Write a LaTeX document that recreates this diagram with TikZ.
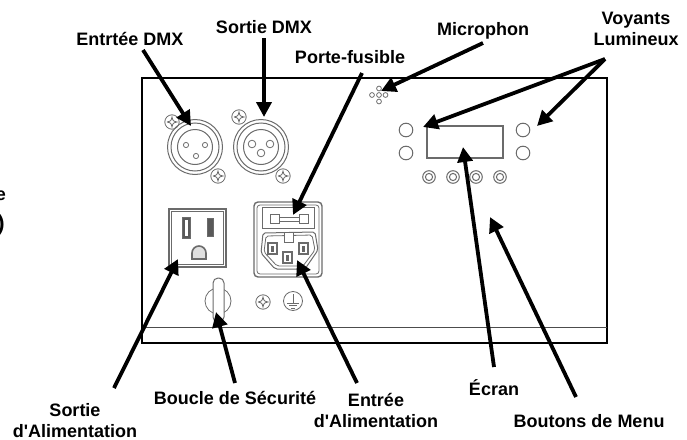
\documentclass[tikz,border=0pt]{standalone}
\usepackage{fontspec}
\setmainfont{Liberation Sans}[Ligatures=TeXOff]
\usetikzlibrary{arrows.meta}
\definecolor{partgray}{gray}{0.42}
\tikzset{
  lbl/.style={font=\fontsize{18}{21}\selectfont\bfseries,inner sep=0pt,text=black,align=center},
  callout/.style={line width=3.8pt,-{Triangle[length=15pt,width=15pt]},black},
  part/.style={draw=partgray,line width=1pt},
  thinpart/.style={draw=partgray,line width=0.8pt},
  screwpic/.pic={
    \draw[thinpart] (0,0) circle (7.2);
    \draw[thinpart] (-5,0) .. controls (-1,-1) .. (0,-5) .. controls (1,-1) .. (5,0) .. controls (1,1) .. (0,5) .. controls (-1,1) .. (-5,0);
  },
  xlrpic/.pic={
    \draw[part] (0,0) circle (27.5);
    \draw[part] (0,0) circle (24);
    \draw[part] (0,0) circle (17.5);
  },
  knobpic/.pic={
    \draw[part] (0,0) circle (6.3);
    \draw[part] (0,0) circle (3.6);
  },
  ledpic/.pic={\draw[part] (0,0) circle (6.8);},
}
\begin{document}
\begin{tikzpicture}[x=1pt,y=-1pt]
\useasboundingbox (0,0) rectangle (687,439);
\clip (0,0) rectangle (687,439);
% housing
\node[lbl,anchor=east] (frontA) at (6,196) {e};
\node[lbl,anchor=east,font=\fontsize{22}{24}\selectfont\bfseries] (frontB) at (5,225) {)};
\draw[black,line width=1.6pt] (142,78) rectangle (607,343);
\draw[black!70,line width=0.8pt] (142,327) -- (607,327);
% DMX connectors
\pic at (195,147) {xlrpic};
\foreach \x/\y in {186/145,205/145,196/156} \draw[thinpart] (\x,\y) circle (2.6);
\pic at (172,122) {screwpic};
\pic at (218,176) {screwpic};
\pic at (261,147) {xlrpic};
\foreach \x/\y in {252/144,270/144,261/153} \draw[thinpart] (\x,\y) circle (3.8);
\pic at (239,117) {screwpic};
\pic at (283,176) {screwpic};
% outlet
\draw[part,line width=1.2pt] (169,209) rectangle (226,267);
\draw[thinpart] (171.5,211.5) rectangle (223.5,264.5);
\draw[part,fill=black!65,line width=0.6pt] (182,217) rectangle (190,238);
\fill[white] (184.5,219.5) rectangle (187.5,235.5);
\draw[part,fill=black!65,line width=0.6pt] (207,218) rectangle (213,236);
\draw[part,line width=1.6pt,fill=black!12] (192,259) -- (192,253) arc[start angle=180,end angle=360,radius=7] -- (206,259) -- cycle;
% IEC inlet with fuse holder
\draw[part,line width=1.4pt,rounded corners=4pt] (254,202) rectangle (322,277);
\draw[thinpart,rounded corners=3pt] (257,205) rectangle (319,274);
\draw[part] (262,207) rectangle (314,228);
\draw[part] (270,214) rectangle (279,223);
\draw[part] (299,214) rectangle (308,223);
\draw[part] (279,217) rectangle (299,221);
\draw[part,rounded corners=2pt] (263,233) -- (315,232) -- (318,250) -- (305,269) -- (275,269) -- (261,253) -- cycle;
\draw[thinpart,rounded corners=2pt] (266,236) -- (312,235) -- (315,250) -- (303,266) -- (277,266) -- (264,252) -- cycle;
\draw[part,fill=white] (284,232) rectangle (293,242);
\foreach \x/\y in {268/243,299/243,283/252}{
  \draw[part,line width=1.2pt] (\x,\y) rectangle ++(9,11);
  \fill[black!60] (\x+3,\y+2.5) rectangle ++(3,6);
}
% safety loop, screw, earth
\draw[thinpart] (218,301) circle (13);
\draw[part,fill=white,rounded corners=5pt] (213,278) rectangle (224,322);
\pic at (263,302) {screwpic};
\draw[thinpart] (293,301) circle (9.5);
\draw[thinpart] (293,294) -- (293,303);
\draw[thinpart] (287,303) -- (299,303);
\draw[thinpart] (289,305.5) -- (297,305.5);
\draw[thinpart] (291,308) -- (295,308);
% microphone
\foreach \x/\y in {379/88.5,372/95,379/95,385.5/95,379/101.5} \draw[thinpart] (\x,\y) circle (2.4);
% display, LEDs, buttons
\draw[part,line width=1.2pt] (427,126) rectangle (503,158);
\pic at (406,130) {ledpic};
\pic at (406,153) {ledpic};
\pic at (523,130) {ledpic};
\pic at (523,153) {ledpic};
\pic at (429,177) {knobpic};
\pic at (453,177) {knobpic};
\pic at (476,177) {knobpic};
\pic at (500,177) {knobpic};
% labels
\node[lbl] (entreeDmx) at (130,39) {Entrtée DMX};
\node[lbl] (sortieDmx) at (264,27) {Sortie DMX};
\node[lbl] (fuse) at (350,57) {Porte-fusible};
\node[lbl] (mic) at (483,31) {Microphon};
\node[lbl] (voyants) at (636,28.5) {Voyants\\Lumineux};
\node[lbl] (ecran) at (494,388) {Écran};
\node[lbl] (boucle) at (235,398) {Boucle de Sécurité};
\node[lbl] (entreeAlim) at (376,410.5) {Entrée\\d'Alimentation};
\node[lbl] (boutons) at (589,421) {Boutons de Menu};
\node[lbl] (sortieAlim) at (75,420.5) {Sortie\\d'Alimentation};
% connector ends
\coordinate (a1) at (143,50);   \coordinate (t1) at (191,126);
\coordinate (a2) at (264,38);   \coordinate (t2) at (264,117);
\coordinate (a3) at (362,73);   \coordinate (t3) at (293,215);
\coordinate (a4) at (483,43);   \coordinate (t4) at (381,91);
\coordinate (a5) at (605,59);   \coordinate (t5) at (423,127);
\coordinate (t6) at (537,126);
\coordinate (a7) at (494,367);  \coordinate (t7) at (463,147);
\coordinate (a8) at (576,397);  \coordinate (t8) at (490,217);
\coordinate (a9) at (114,388);  \coordinate (t9) at (178,259);
\coordinate (a10) at (235,383); \coordinate (t10) at (216,312);
\coordinate (a11) at (357,383); \coordinate (t11) at (297,260);
\draw[callout] (a1) -- (t1);
\draw[callout] (a2) -- (t2);
\draw[callout] (a3) -- (t3);
\draw[callout] (a4) -- (t4);
\draw[callout] (a5) -- (t5);
\draw[callout] (a5) -- (t6);
\draw[callout] (a7) -- (t7);
\draw[callout] (a8) -- (t8);
\draw[callout] (a9) -- (t9);
\draw[callout] (a10) -- (t10);
\draw[callout] (a11) -- (t11);
\end{tikzpicture}
\end{document}
